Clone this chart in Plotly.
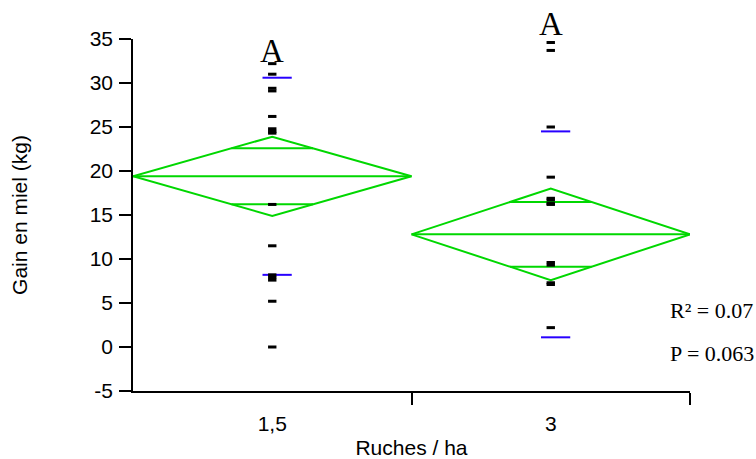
import numpy as np
import plotly.graph_objects as go

# ---- data ----
categories = ["1,5", "3"]
cat_pos = [0.5, 1.5]          # category centres on the x axis (each group spans 1 unit)
group_values = [
    [32.2, 31.0, 29.4, 29.1, 26.2, 24.8, 24.5, 24.3, 16.2, 11.5, 8.2, 7.9, 7.6, 5.2, 0.0],
    [34.6, 33.7, 25.0, 19.3, 16.9, 16.7, 16.3, 16.2, 9.6, 9.3, 7.3, 7.1, 2.2],
]
group_means = [19.4, 12.8]
ci_half = [4.5, 5.2]          # half-height of the means diamonds (95% CI)
group_sd = [11.2, 11.7]       # std-dev lines (blue)
letters = ["A", "A"]
letters_y = [33.6, 36.7]
stats_text = ["R² = 0.07", "P = 0.063"]
stats_y = [4.2, -0.7]
y_ticks = [-5, 0, 5, 10, 15, 20, 25, 30, 35]
y_ticktext = ["-5", "0", "5", "10", "15", "20", "25", "30", "35"]
Y_RANGE = [-5, 35]

GREEN = "rgb(0,215,0)"
BLUE = "rgb(40,0,255)"

fig = go.Figure()

half_w = 0.5
for c, m, h in zip(cat_pos, group_means, ci_half):
    # diamond outline
    fig.add_trace(go.Scatter(
        x=[c - half_w, c, c + half_w, c, c - half_w],
        y=[m, m + h, m, m - h, m],
        mode="lines", line=dict(color=GREEN, width=2), hoverinfo="skip", showlegend=False))
    # mean line
    fig.add_trace(go.Scatter(
        x=[c - half_w, c + half_w], y=[m, m],
        mode="lines", line=dict(color=GREEN, width=2), hoverinfo="skip", showlegend=False))
    # overlap marks
    d = h / np.sqrt(2)
    w = half_w * (1 - d / h)
    for yy in (m + d, m - d):
        fig.add_trace(go.Scatter(
            x=[c - w, c + w], y=[yy, yy],
            mode="lines", line=dict(color=GREEN, width=2), hoverinfo="skip", showlegend=False))

# std dev lines
for c, m, s in zip(cat_pos, group_means, group_sd):
    for yy in (m + s, m - s):
        fig.add_trace(go.Scatter(
            x=[c - 0.035, c + 0.07], y=[yy, yy],
            mode="lines", line=dict(color=BLUE, width=2), hoverinfo="skip", showlegend=False))

# points
for c, vals in zip(cat_pos, group_values):
    fig.add_trace(go.Scatter(
        x=[c] * len(vals), y=vals, mode="markers",
        marker=dict(symbol="line-ew", size=6, color="black",
                    line=dict(width=3, color="black")),
        showlegend=False))

def to_domain(v):
    return (v - Y_RANGE[0]) / (Y_RANGE[1] - Y_RANGE[0])

annotations = []
for c, t, yy in zip(cat_pos, letters, letters_y):
    annotations.append(dict(x=c, y=to_domain(yy), xref="x", yref="y domain", text=t,
                            showarrow=False, xanchor="center", yanchor="middle",
                            font=dict(family="Liberation Serif", size=33, color="black")))
for t, yy in zip(stats_text, stats_y):
    annotations.append(dict(x=0.961, y=to_domain(yy), xref="paper", yref="y domain", text=t,
                            showarrow=False, xanchor="left", yanchor="middle",
                            font=dict(family="Liberation Serif", size=22, color="black")))

AX_FONT = dict(family="Liberation Sans", size=21, color="black")

fig.update_layout(
    width=756, height=459,
    margin=dict(l=133, r=66, t=39, b=68),
    paper_bgcolor="white", plot_bgcolor="white",
    font=AX_FONT,
    annotations=annotations,
    xaxis=dict(range=[0, 2], showline=True, linecolor="black", linewidth=1.5,
               showgrid=False, zeroline=False,
               tickmode="array", tickvals=cat_pos, ticktext=categories, ticks="",
               tickfont=AX_FONT, ticklabelstandoff=13,
               minor=dict(tickmode="array", tickvals=[1, 2], ticks="outside", ticklen=12,
                          tickwidth=1.5, tickcolor="black", showgrid=False),
               title=dict(text="Ruches / ha", standoff=8, font=AX_FONT),
               automargin=False, fixedrange=True),
    yaxis=dict(range=Y_RANGE, showline=True, linecolor="black", linewidth=1.5,
               showgrid=False, zeroline=False,
               tickmode="array", tickvals=y_ticks, ticktext=y_ticktext,
               ticks="outside", ticklen=12,
               tickwidth=1.5, tickcolor="black", ticklabelstandoff=2, tickfont=AX_FONT,
               title=dict(text="Gain en miel (kg)", standoff=56, font=AX_FONT),
               automargin=False, fixedrange=True),
)

fig.write_html("out.html")
